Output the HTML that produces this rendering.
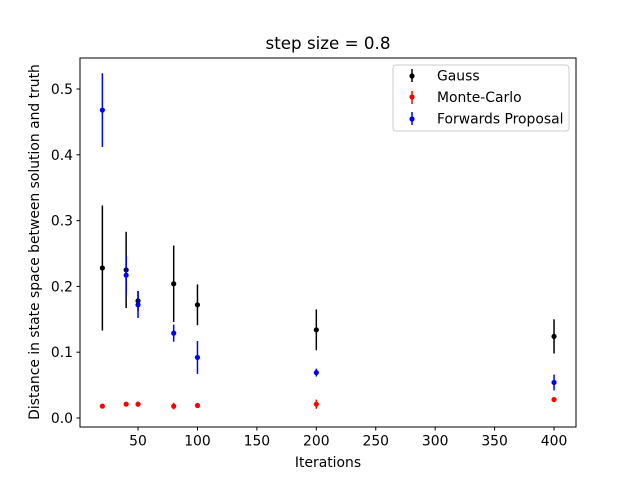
<!DOCTYPE html>
<html><head><meta charset="utf-8"><style>
body{margin:0;background:#fff;}
svg{display:block;font-family:"DejaVu Sans","Liberation Sans",sans-serif;}
</style></head><body>
<svg id="chart" width="640" height="480">
<rect x="0" y="0" width="640" height="480" fill="#fff"/>
<text x="328" y="49" font-size="16.7" text-anchor="middle">step size = 0.8</text>
<g id="marks"></g>
<rect x="80" y="58" width="496" height="369" fill="none" stroke="#000" stroke-width="1"/>
<g id="xticks"></g><g id="yticks"></g>
<text x="328" y="467" font-size="13.9" text-anchor="middle">Iterations</text>
<text transform="translate(39,242) rotate(-90)" font-size="13.9" text-anchor="middle">Distance in state space between solution and truth</text>
<g font-size="13.9">
<rect x="393" y="65" width="176" height="66" rx="3" fill="#fff" stroke="#ccc"/>
<g><line x1="412" y1="69" x2="412" y2="82" stroke="#000" stroke-width="1.5"/><circle cx="412" cy="76" r="2.6" fill="#000"/><text x="437" y="80.5">Gauss</text></g>
<g><line x1="412" y1="91" x2="412" y2="104" stroke="red" stroke-width="1.5"/><circle cx="412" cy="97" r="2.6" fill="red"/><text x="437" y="102">Monte-Carlo</text></g>
<g><line x1="412" y1="112" x2="412" y2="125" stroke="blue" stroke-width="1.5"/><circle cx="412" cy="119" r="2.6" fill="blue"/><text x="437" y="123.5">Forwards Proposal</text></g>
</g>
</svg>
<script>
const iterations=[20,40,50,80,100,200,400];
const gaussMean=[0.228,0.225,0.178,0.204,0.172,0.134,0.124];
const gaussErr=[0.095,0.058,0.015,0.058,0.031,0.031,0.026];
const mcMean=[0.018,0.021,0.021,0.018,0.019,0.021,0.028];
const mcErr=[0.002,0.003,0.004,0.005,0.002,0.007,0.003];
const fpMean=[0.468,0.217,0.172,0.129,0.092,0.069,0.054];
const fpErr=[0.056,0.03,0.02,0.013,0.025,0.006,0.012];
const xTicks=[50,100,150,200,250,300,350,400];
const yTicks=[0.0,0.1,0.2,0.3,0.4,0.5];
const NS='http://www.w3.org/2000/svg';
function xs(v){return 78.6+1.1886*v;}
function ys(v){return 418-658*v;}
function mk(tag,attrs,parent){const e=document.createElementNS(NS,tag);for(const k in attrs)e.setAttribute(k,attrs[k]);parent.appendChild(e);return e;}
const marks=document.getElementById('marks');
function series(name,mean,err,color){
  const g=mk('g',{},marks);
  
  
  iterations.forEach((it,i)=>{
    const x=xs(it);
    const l=mk('line',{x1:x,x2:x,y1:ys(mean[i]-err[i]),y2:ys(mean[i]+err[i]),stroke:color,'stroke-width':1.5},g);
    
    
    const c=mk('circle',{cx:x,cy:ys(mean[i]),r:2.6,fill:color},g);
    
    
  });
}
series('gauss',gaussMean,gaussErr,'#000');
series('monte-carlo',mcMean,mcErr,'red');
series('forwards-proposal',fpMean,fpErr,'blue');
const xt=document.getElementById('xticks');
xTicks.forEach(v=>{
  const x=xs(v);
  mk('line',{x1:x,x2:x,y1:427,y2:430.5,stroke:'#000'},xt);
  const t=mk('text',{x:x,y:445.5,'font-size':13.9,'text-anchor':'middle'},xt);
  t.textContent=v;
  
  
});
const yt=document.getElementById('yticks');
yTicks.forEach(v=>{
  const y=ys(v);
  mk('line',{x1:76.5,x2:80,y1:y,y2:y,stroke:'#000'},yt);
  const t=mk('text',{x:73,y:y+5,'font-size':13.9,'text-anchor':'end'},yt);
  t.textContent=v.toFixed(1);
  
  
});
</script>
</body></html>
